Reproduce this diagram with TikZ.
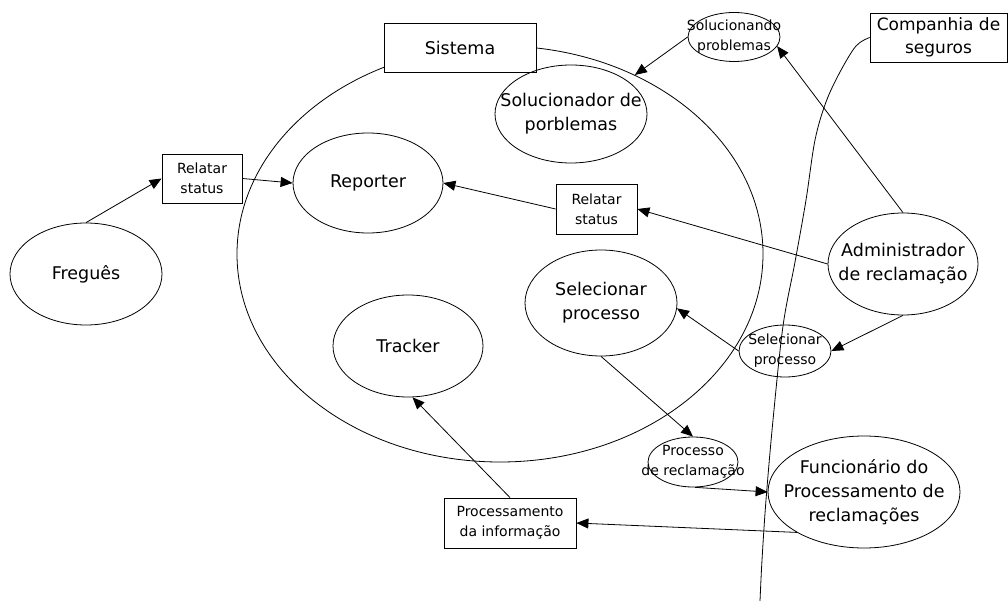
\documentclass[tikz,border=0pt]{standalone}
\usepackage{fontspec}
\setmainfont{DejaVu Sans}
\usetikzlibrary{shapes.geometric, arrows.meta}

\begin{document}
\begin{tikzpicture}[x=1pt, y=-1pt, line width=0.8pt,
  bigtxt/.style={font=\fontsize{17.5}{24}\selectfont, align=center},
  smalltxt/.style={font=\fontsize{14}{20}\selectfont, align=center},
  % ellipse of fixed size; its text is set as a centred label
  oval/.style n args={3}{draw, ellipse, inner sep=0pt,
      minimum width=#1, minimum height=#2,
      label={[bigtxt]center:#3}},
  smalloval/.style n args={3}{draw, ellipse, inner sep=0pt,
      minimum width=#1, minimum height=#2,
      label={[smalltxt]center:#3}},
  flowbox/.style n args={2}{draw, fill=white, rectangle, inner sep=1pt,
      minimum width=#1, minimum height=#2},
  flow/.style={-{Triangle[length=12pt, width=10pt]}}
]
\useasboundingbox (0,0) rectangle (1008,601);
\fill[white] (0,0) rectangle (1008,601);

% system boundary
\node[draw, ellipse, inner sep=0pt, minimum width=526, minimum height=416] (sys) at (500,254) {};
\node[flowbox={152}{49}, bigtxt] (sistema) at (460,47.5) {Sistema};

% actors and processes
\node[oval={152}{102}{Freguês}] (freg) at (86,274) {};
\node[oval={150}{100}{Reporter}] (rep) at (368,183) {};
\node[oval={152}{98}{Solucionador de\\porblemas}] (solr) at (571,114) {};
\node[smalloval={92}{49}{Solucionando\\problemas}] (soln) at (734,37) {};
\node[oval={150}{102}{Administrador\\de reclamação}] (adm) at (903,264) {};
\node[oval={152}{106}{Selecionar\\processo}] (sel1) at (601,303) {};
\node[smalloval={92}{52}{Selecionar\\processo}] (sel2) at (785,351) {};
\node[oval={150}{102}{Tracker}] (trk) at (408,346) {};
\node[smalloval={90}{50}{Processo\\de reclamação}] (proc) at (693,462) {};
\node[oval={192}{112}{Funcionário do\\Processamento de\\reclamações}] (func) at (864,492) {};

% data flows
\node[flowbox={80}{49}, smalltxt] (rs1) at (202,178.5) {Relatar\\status};
\node[flowbox={81}{50}, smalltxt] (rs2) at (596.5,209) {Relatar\\status};
\node[flowbox={132}{50}, smalltxt] (pinf) at (510,523) {Processamento\\da informação};
\node[flowbox={137}{49}, font=\fontsize{17}{23}\selectfont, align=center] (comp) at (938.5,37.5) {Companhia de\\seguros};

% organisation boundary
\coordinate (bnd) at (760,601);
\draw plot[smooth, tension=0.55] coordinates {(comp.west) (856,46) (840,72) (826,102) (815,140) (806,200) (795,262) (783,326) (773,420) (766,500) (762,560) (bnd)};

% connectors
\draw[flow] (freg.north) -- (rs1.west);
\draw[flow] (rs1.east) -- (rep.west);
\draw[flow] (rs2.west) -- (rep.east);
\draw[flow] (adm.west) -- (rs2.east);
\draw[flow] (adm.north) -- (soln.-12);
\draw[flow] (soln.west) -- (sys.53.4);
\draw[flow] (adm.south) -- (sel2.east);
\draw[flow] (sel2.west) -- (sel1.-4);
\draw[flow] (sel1.south) -- (proc.north);
\draw[flow] (proc.-85) -- (func.west);
\draw[flow] (func.211) -- (pinf.east);
\draw[flow] (pinf.north) -- (trk.-85);
\end{tikzpicture}
\end{document}
